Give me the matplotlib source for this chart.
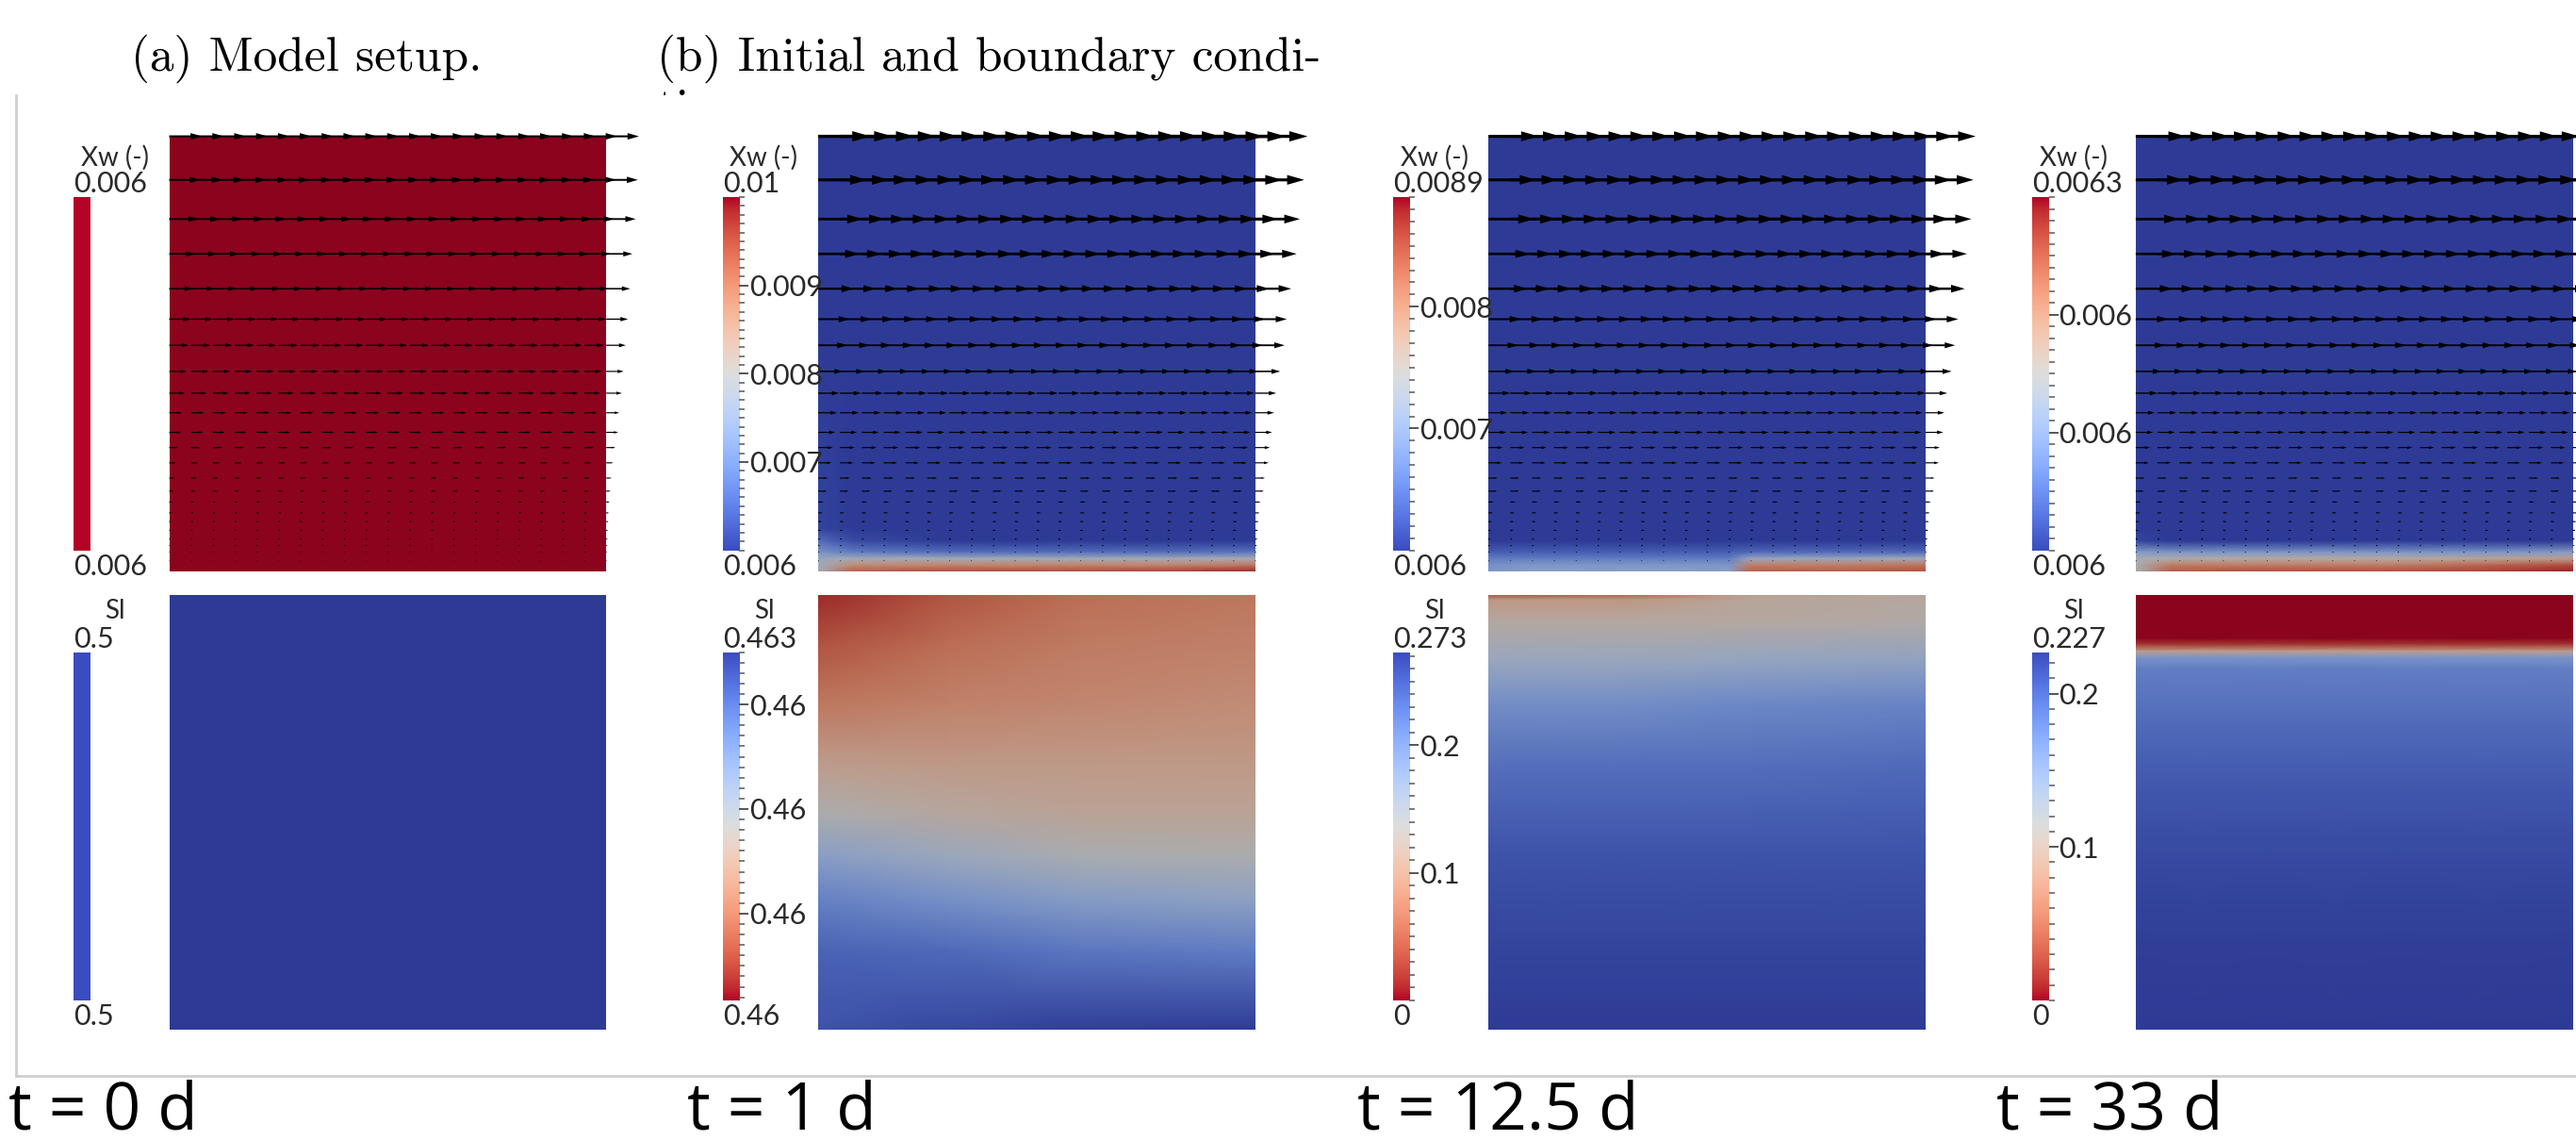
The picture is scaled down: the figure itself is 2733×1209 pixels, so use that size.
import numpy as np
import matplotlib
matplotlib.use('Agg')
import matplotlib.pyplot as plt
from matplotlib.colors import Normalize, ListedColormap
from matplotlib.ticker import MultipleLocator
from matplotlib.patches import Rectangle
from matplotlib.lines import Line2D

# ---------------- data ----------------
time_labels = ['t = 0 d', 't = 1 d', 't = 12.5 d', 't = 33 d']

# colour bar ranges, ticks and end labels
xw_range = [(0.006, 0.006), (0.006, 0.010), (0.006, 0.0089), (0.006, 0.0063)]
xw_ticks = [[], [0.009, 0.008, 0.007], [0.008, 0.007], [0.0062, 0.0061]]
xw_ticklabels = [[], ['0.009', '0.008', '0.007'], ['0.008', '0.007'], ['0.006', '0.006']]
xw_minor = [None, 0.0001, 0.0001, 0.00001]
xw_ends = [('0.006', '0.006'), ('0.01', '0.006'), ('0.0089', '0.006'), ('0.0063', '0.006')]

sl_range = [(0.5, 0.5), (0.45967, 0.4630), (0.0, 0.273), (0.0, 0.227)]
sl_ticks = [[], [0.4625, 0.4615, 0.4605], [0.2, 0.1], [0.2, 0.1]]
sl_ticklabels = [[], ['0.46', '0.46', '0.46'], ['0.2', '0.1'], ['0.2', '0.1']]
sl_minor = [None, 0.0001, 0.01, 0.01]
sl_ends = [('0.5', '0.5'), ('0.463', '0.46'), ('0.273', '0'), ('0.227', '0')]

# Xw field: nodes across the width and down the depth (0 = top)
xw_x = [0.0, 0.08, 0.3, 0.55, 0.6, 0.8, 1.0]
xw_depth = [0.0, 0.5, 0.9, 0.93, 0.955, 0.97, 0.985, 1.0]
xw_field = [
    [[0.006] * 7] * 8,
    [[0.006] * 7,
     [0.006] * 7,
     [0.0061, 0.006, 0.006, 0.006, 0.006, 0.006, 0.006],
     [0.0066, 0.0062, 0.006, 0.006, 0.006, 0.006, 0.006],
     [0.0072, 0.0068, 0.0066, 0.0066, 0.0066, 0.0066, 0.0067],
     [0.0076, 0.0078, 0.0078, 0.0078, 0.0078, 0.0078, 0.0079],
     [0.0078, 0.0087, 0.0088, 0.0088, 0.0088, 0.0088, 0.0090],
     [0.0078, 0.0093, 0.0095, 0.0095, 0.0095, 0.0096, 0.0098]],
    [[0.006] * 7,
     [0.006] * 7,
     [0.006] * 7,
     [0.006] * 7,
     [0.0063, 0.0063, 0.0063, 0.0063, 0.0064, 0.0064, 0.0064],
     [0.0066, 0.0066, 0.0066, 0.0066, 0.0072, 0.0072, 0.0073],
     [0.0068, 0.0069, 0.0069, 0.0069, 0.0081, 0.0081, 0.0082],
     [0.0069, 0.0070, 0.0070, 0.0070, 0.0084, 0.0084, 0.0085]],
    [[0.006] * 7,
     [0.006] * 7,
     [0.006] * 7,
     [0.00601, 0.00600, 0.00600, 0.00600, 0.00600, 0.00600, 0.00600],
     [0.00610, 0.00609, 0.00609, 0.00609, 0.00609, 0.00609, 0.00610],
     [0.00614, 0.00615, 0.00616, 0.00616, 0.00616, 0.00617, 0.00618],
     [0.00615, 0.00622, 0.00622, 0.00622, 0.00622, 0.00624, 0.00626],
     [0.00614, 0.00625, 0.00626, 0.00626, 0.00626, 0.00627, 0.00629]],
]

# Sl field
sl_x = [0.0, 0.3, 0.6, 1.0]
sl_depth = [
    [0.0, 1.0],
    [0.0, 0.12, 0.25, 0.4, 0.5, 0.6, 0.7, 0.82, 1.0],
    [0.0, 0.012, 0.06, 0.15, 0.25, 0.4, 0.6, 0.8, 1.0],
    [0.0, 0.1, 0.115, 0.13, 0.145, 0.17, 0.3, 0.45, 0.6, 0.8, 1.0],
]
sl_field = [
    [[0.5] * 4, [0.5] * 4],
    [[0.45984, 0.46017, 0.46040, 0.46050],
     [0.46017, 0.46040, 0.46054, 0.46060],
     [0.46050, 0.46060, 0.46067, 0.46074],
     [0.46100, 0.46094, 0.46094, 0.46094],
     [0.46134, 0.46117, 0.46107, 0.46107],
     [0.46184, 0.46160, 0.46140, 0.46134],
     [0.46227, 0.46207, 0.46187, 0.46177],
     [0.46260, 0.46254, 0.46240, 0.46233],
     [0.46277, 0.46287, 0.46297, 0.46300]],
    [[0.04, 0.05, 0.11, 0.12],
     [0.10, 0.10, 0.12, 0.125],
     [0.125, 0.125, 0.125, 0.13],
     [0.16, 0.16, 0.165, 0.17],
     [0.20, 0.20, 0.205, 0.21],
     [0.232, 0.232, 0.232, 0.235],
     [0.254, 0.254, 0.254, 0.254],
     [0.265, 0.265, 0.265, 0.265],
     [0.273, 0.273, 0.273, 0.273]],
    [[0.0] * 4, [0.0] * 4, [0.02] * 4, [0.09] * 4, [0.16] * 4, [0.18] * 4,
     [0.195] * 4, [0.209] * 4, [0.218] * 4, [0.225] * 4, [0.227] * 4],
]

# velocity glyphs: mesh rows (depth) and glyph length per row (in column spacings)
glyph_cols = 21
glyph_depth = [0.0, 0.10, 0.19, 0.27, 0.35, 0.42, 0.48, 0.54, 0.59, 0.635, 0.68, 0.715,
               0.75, 0.785, 0.815, 0.84, 0.865, 0.885, 0.905, 0.925, 0.94, 0.955, 0.975]
glyph_len = [
    [1.5, 1.45, 1.35, 1.2, 1.1, 1.0, 0.9, 0.8, 0.72, 0.6, 0.55, 0.42, 0.32, 0.25, 0.2,
     0.15, 0.12, 0.1, 0.08, 0.07, 0.06, 0.05, 0.04],
    [2.4, 2.25, 2.05, 1.9, 1.65, 1.45, 1.35, 1.15, 0.97, 0.87, 0.78, 0.68, 0.62, 0.45, 0.4,
     0.25, 0.2, 0.16, 0.13, 0.1, 0.08, 0.06, 0.05],
    [2.3, 2.2, 2.1, 1.9, 1.8, 1.5, 1.36, 1.2, 1.0, 0.87, 0.82, 0.66, 0.62, 0.42, 0.4,
     0.25, 0.2, 0.16, 0.13, 0.1, 0.08, 0.06, 0.05],
    [2.3, 2.2, 2.0, 1.85, 1.7, 1.5, 1.35, 1.2, 1.0, 0.87, 0.8, 0.66, 0.6, 0.42, 0.38,
     0.25, 0.2, 0.16, 0.13, 0.1, 0.08, 0.06, 0.05],
]

# ---------------- layout (pixels of a 1568 x 694 view) ----------------
W, H = 1568, 694
field_left = [103, 498, 906, 1300]
field_w = 266
bar_left = [45, 440, 848, 1237]
bar_w = 10
upper = (83, 348)
lower = (362, 627)
bar_up = (120, 335)
bar_lo = (397, 609)


def fx(x):
    return x / W


def fy(y):
    return 1 - y / H


def add_ax(x0, y0, x1, y1):
    ax = fig.add_axes([fx(x0), fy(y1), (x1 - x0) / W, (y1 - y0) / H])
    ax.set_zorder(3)
    return ax


base = plt.get_cmap('coolwarm')
shaded = base(np.linspace(0, 1, 256))
shaded[:, :3] *= 0.78
field_cmap = ListedColormap(shaded)

LABEL_FONT = ['Lato', 'DejaVu Sans']
TXT = '#2a2a2a'
LBL = 22

fig = plt.figure(figsize=(27.33, 12.09), dpi=100)


def make_norm(lo, hi):
    return Normalize(lo - 1e-9, hi) if lo == hi else Normalize(lo, hi)


def draw_bar(i, y0, y1, cmap, rng, ticks, labels, minor, ends, title, title_y):
    lo, hi = rng
    ax = add_ax(bar_left[i], y0, bar_left[i] + bar_w, y1)
    flat = lo == hi
    ylo, yhi = (0, 1) if flat else (lo, hi)
    grad = np.linspace(lo, hi, 256).reshape(-1, 1)
    ax.imshow(grad, cmap=cmap, norm=make_norm(lo, hi), origin='lower',
              extent=[0, 1, ylo, yhi], aspect='auto', interpolation='bilinear')
    ax.set_xlim(0, 1)
    ax.set_ylim(ylo, yhi)
    ax.set_xticks([])
    ax.yaxis.tick_right()
    ax.set_yticks(ticks, labels)
    if minor:
        ax.yaxis.set_minor_locator(MultipleLocator(minor))
    ax.tick_params(axis='y', which='major', direction='out', length=7, width=1.4,
                   color='#555555', pad=1, labelsize=LBL, labelcolor=TXT)
    ax.tick_params(axis='y', which='minor', direction='out', length=4, width=1.2,
                   color='#666666')
    for t in ax.get_yticklabels():
        t.set_family(LABEL_FONT)
    for s in ax.spines.values():
        s.set_visible(False)
    ax.text(0, 1.0, ends[0], transform=ax.transAxes, ha='left', va='bottom',
            fontsize=LBL, color=TXT, family=LABEL_FONT)
    ax.text(0, -0.008, ends[1], transform=ax.transAxes, ha='left', va='top',
            fontsize=LBL, color=TXT, family=LABEL_FONT)
    fig.text(fx(bar_left[i] + 25), fy(title_y), title, ha='center', va='center',
             fontsize=20, color=TXT, family=LABEL_FONT, zorder=5)


col_x = np.linspace(0, 1, glyph_cols)
step = col_x[1] - col_x[0]

for i in range(4):
    fl = field_left[i]
    # ---- upper: Xw with velocity glyphs ----
    ax = add_ax(fl, upper[0], fl + field_w, upper[1])
    X, Y = np.meshgrid(xw_x, xw_depth)
    ax.pcolormesh(X, Y, np.array(xw_field[i]), shading='gouraud', cmap=field_cmap,
                  norm=make_norm(*xw_range[i]))
    for d, L in zip(glyph_depth, glyph_len[i]):
        w = max(0.06 * L, 0.05) * step
        hw = max(0.2 * L * step / w, 1.0)
        hl = max(0.35 * L * step / w, 1.0)
        q = ax.quiver(col_x, np.full(glyph_cols, d), np.full(glyph_cols, L * step),
                      np.zeros(glyph_cols), angles='xy', scale_units='xy', scale=1,
                      units='xy', width=w, headwidth=hw, headlength=hl,
                      headaxislength=hl, color='black', minlength=0.5)
        q.set_clip_on(False)
    ax.set_xlim(0, 1)
    ax.set_ylim(1, 0)
    ax.axis('off')

    # ---- lower: Sl ----
    ax = add_ax(fl, lower[0], fl + field_w, lower[1])
    X, Y = np.meshgrid(sl_x, sl_depth[i])
    ax.pcolormesh(X, Y, np.array(sl_field[i]), shading='gouraud',
                  cmap=field_cmap.reversed(), norm=make_norm(*sl_range[i]))
    ax.set_xlim(0, 1)
    ax.set_ylim(1, 0)
    ax.axis('off')

    draw_bar(i, bar_up[0], bar_up[1], base, xw_range[i], xw_ticks[i], xw_ticklabels[i],
             xw_minor[i], xw_ends[i], 'Xw (-)', 96)
    draw_bar(i, bar_lo[0], bar_lo[1], base.reversed(), sl_range[i], sl_ticks[i],
             sl_ticklabels[i], sl_minor[i], sl_ends[i], 'Sl', 372)

    fig.text(fx([5, 418, 826, 1215][i]), fy(677), time_labels[i], ha='left', va='center',
             fontsize=50, family=['Open Sans', 'DejaVu Sans'], color='black')

# sub-figure captions above the screenshot
fig.text(fx(80), fy(43), '(a) Model setup.', family='cmr10', fontsize=37,
         ha='left', va='baseline', zorder=1)
fig.text(fx(400), fy(43), '(b) Initial and boundary condi-', family='cmr10', fontsize=37,
         ha='left', va='baseline', zorder=1)
fig.text(fx(400), fy(74), 'tions.', family='cmr10', fontsize=37,
         ha='left', va='baseline', zorder=1)

# screenshot frame (covers the wrapped caption line)
fig.patches.append(Rectangle((fx(10), fy(655)), 1 - fx(10), fy(58) - fy(655),
                             transform=fig.transFigure, facecolor='white',
                             edgecolor='none', zorder=2))
fig.lines.append(Line2D([fx(10), fx(10)], [fy(58), fy(655)], transform=fig.transFigure,
                        color='#cfcfcf', lw=2, zorder=4))
fig.lines.append(Line2D([fx(10), 1], [fy(655), fy(655)], transform=fig.transFigure,
                        color='#cfcfcf', lw=2, zorder=4))

fig.savefig('out.png', dpi=100, facecolor='white')
